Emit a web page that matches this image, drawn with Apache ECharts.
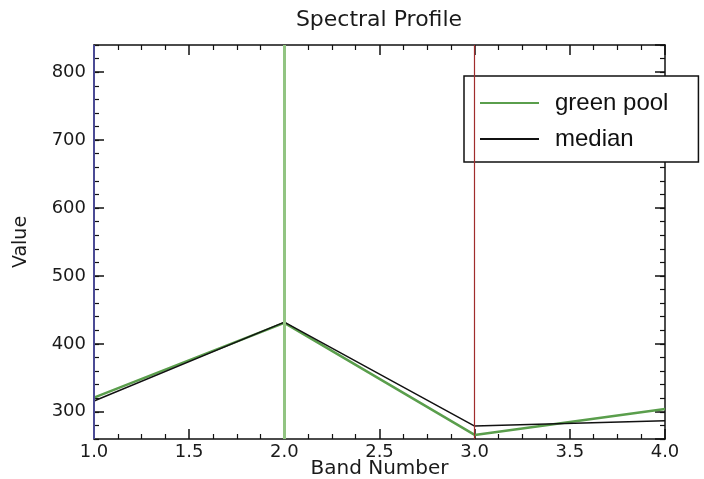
<!DOCTYPE html>
<html>
<head>
<meta charset="utf-8">
<title>Spectral Profile</title>
<script src="https://cdn.jsdelivr.net/npm/echarts@6/dist/echarts.min.js"></script>
<style>
  html, body { margin: 0; padding: 0; background: #fff; }
  #chart { width: 704px; height: 479px; }
</style>
</head>
<body>
<div id="chart"></div>
<script>
// Band positions along the x axis
const bands = [1.0, 2.0, 3.0, 4.0];
// Spectral values per band
const greenPool = [321, 431, 266, 304];
const median = [316, 432, 279, 287];
// Bands shown as R/G/B display markers
const markerBands = [1.0, 2.0, 3.0];
// Axis ranges and tick spacing
const xRange = [1.0, 4.0];
const yRange = [260, 840];
const yLabelStep = 100;

const pairs = (ys) => bands.map((b, i) => [b, ys[i]]);

const markerStyles = [
  { color: '#4b4b95', width: 2 },
  { color: '#92c482', width: 3 },
  { color: '#a02c2c', width: 1.2 }
];

const axisFont = { fontFamily: 'DejaVu Sans', fontSize: 18, color: '#1a1a1a' };
const lineBlack = { color: '#111', width: 1.5 };

const chart = echarts.init(document.getElementById('chart'), null, { renderer: 'canvas' });

const xCommon = {
  type: 'value', min: xRange[0], max: xRange[1], interval: 0.5,
  axisLine: { show: true, onZero: false, lineStyle: lineBlack },
  axisTick: { show: true, inside: true, length: 10, lineStyle: { color: '#111', width: 1.5 } },
  minorTick: { show: true, splitNumber: 4, length: 5, lineStyle: { color: '#111', width: 1.2 } },
  splitLine: { show: false }
};

const yMajor = (pos) => ({
  type: 'value', position: pos, min: yRange[0], max: yRange[1],
  axisLine: { show: true, onZero: false, lineStyle: lineBlack },
  axisTick: { show: true, inside: true, length: 10, lineStyle: { color: '#111', width: 1.5 } },
  splitLine: { show: false }
});

const yMinor = (pos) => ({
  type: 'value', position: pos, min: yRange[0], max: yRange[1], interval: 20,
  axisLine: { show: false },
  axisTick: { show: true, inside: true, length: 5, lineStyle: { color: '#111', width: 1.2 } },
  axisLabel: { show: false },
  splitLine: { show: false }
});

chart.setOption({
  animation: false,
  backgroundColor: '#fff',
  title: {
    text: 'Spectral Profile',
    left: 379, top: 9, padding: 0, textAlign: 'center',
    textStyle: { fontFamily: 'DejaVu Sans', fontSize: 22, fontWeight: 'normal', color: '#1a1a1a' }
  },
  legend: {
    orient: 'vertical',
    left: 464, top: 76,
    padding: [14, 30, 10, 16],
    itemGap: 10,
    itemWidth: 59, itemHeight: 2,
    icon: 'rect',
    backgroundColor: '#fff',
    borderColor: '#111', borderWidth: 1.5, borderRadius: 0,
    textStyle: { fontFamily: 'Liberation Sans', fontSize: 24, color: '#111', lineHeight: 26, padding: [0, 0, 0, 11] },
    data: ['green pool', 'median']
  },
  grid: { left: 94, right: 39, top: 45, bottom: 40, containLabel: false, outerBoundsMode: 'none' },
  xAxis: [
    Object.assign({}, xCommon, {
      position: 'bottom',
      name: 'Band Number', nameLocation: 'middle', nameGap: 20, nameMoveOverlap: false,
      nameTextStyle: { fontFamily: 'DejaVu Sans', fontSize: 20, color: '#1a1a1a', verticalAlign: 'top' },
      axisLabel: Object.assign({ margin: 4, formatter: (v) => v.toFixed(1) }, axisFont)
    }),
    Object.assign({}, xCommon, { position: 'top', axisLabel: { show: false } })
  ],
  yAxis: [
    Object.assign(yMajor('left'), {
      name: 'Value', nameLocation: 'middle', nameGap: 63, nameRotate: 90, nameMoveOverlap: false,
      nameTextStyle: { fontFamily: 'DejaVu Sans', fontSize: 19, color: '#1a1a1a' },
      axisLabel: Object.assign({
        margin: 8,
        showMinLabel: false, showMaxLabel: false,
        formatter: (v) => (v % yLabelStep === 0 ? String(v) : '')
      }, axisFont)
    }),
    yMinor('left'),
    Object.assign(yMajor('right'), { axisLabel: { show: false } }),
    yMinor('right')
  ],
  series: [
    {
      name: 'green pool', type: 'line', xAxisIndex: 0, yAxisIndex: 0,
      data: pairs(greenPool),
      showSymbol: false, symbol: 'none',
      color: '#5a9e4c',
      lineStyle: { color: '#5a9e4c', width: 2.5 },
      markLine: {
        silent: true, symbol: ['none', 'none'], animation: false,
        label: { show: false },
        data: markerBands.map((b, i) => ({ xAxis: b, lineStyle: Object.assign({ type: 'solid' }, markerStyles[i]) }))
      },
      z: 2
    },
    {
      name: 'median', type: 'line', xAxisIndex: 0, yAxisIndex: 0,
      data: pairs(median),
      showSymbol: false, symbol: 'none',
      color: '#111',
      lineStyle: { color: '#111', width: 1.5 },
      z: 3
    }
  ]
});
</script>
</body>
</html>
